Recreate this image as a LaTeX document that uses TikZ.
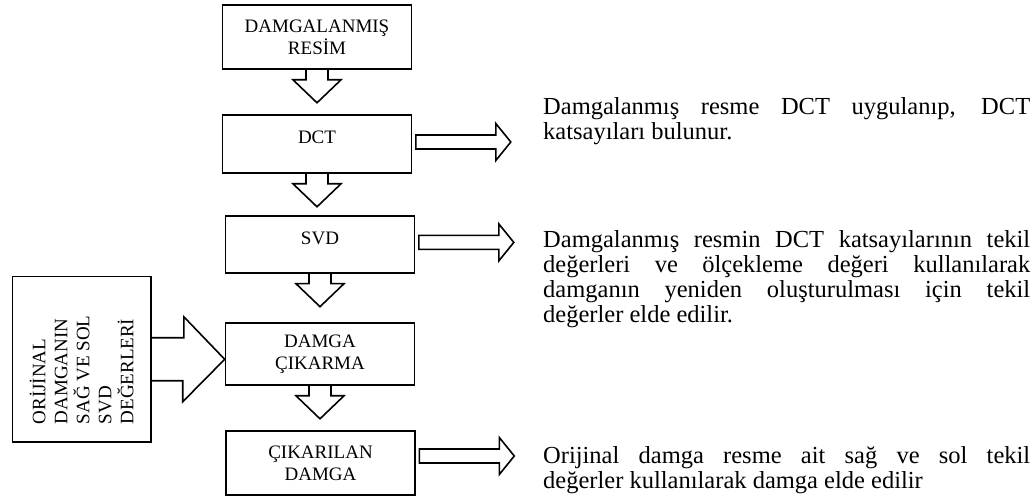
\documentclass[tikz,border=0pt]{standalone}
\usepackage{fontspec}
\setmainfont{Liberation Serif}
\usetikzlibrary{calc}

\begin{document}
\begin{tikzpicture}
[x=1pt, y=1pt,
 kutu/.style={draw, line width=1.6pt, minimum width=189pt, align=center, inner sep=0pt, font=\fontsize{19}{21.7}\selectfont},
 tekli/.style={text height=12pt, text depth=12pt},
 blok/.style={draw, line width=1.6pt, line join=miter},
 aciklama/.style={anchor=north west, inner sep=0pt, text width=487pt, align=justify, font=\fontsize{24.5}{25.2}\selectfont}]
\useasboundingbox (0,0) rectangle (1036,-502);
% akis kutulari
\node[kutu, minimum height=64pt] (resim) at (317,-37) {DAMGALANMIŞ\\RESİM};
\node[kutu, tekli, minimum height=58pt] (dct) at (317,-144) {DCT};
\node[kutu, tekli, minimum height=57pt] (svd) at (320,-244.4) {SVD};
\node[kutu, minimum height=62pt] (cikarma) at (320,-354) {DAMGA\\ÇIKARMA};
\node[kutu, minimum height=64pt] (damga) at (320.5,-463) {ÇIKARILAN\\DAMGA};
\node[kutu, minimum width=138.7pt, minimum height=165.3pt] (orijinal) at (81.7,-359.3) {};
\node[rotate=90, align=left, inner sep=0pt, font=\fontsize{19}{22}\selectfont] (orijinalyazi) at ([yshift=-10.6pt]orijinal.center) {ORİJİNAL\\DAMGANIN\\SAĞ VE SOL\\SVD\\DEĞERLERİ};
% blok oklar
\foreach \k in {resim,dct,svd,cikarma}
  \draw[blok] ([xshift=-11pt]\k.south) -- ++(0,-10) -- ++(-13,0) -- ++(24,-23) -- ++(24,23) -- ++(-13,0) -- ++(0,10);
\foreach \k/\dy in {dct/2,svd/2,damga/7}
  \draw[blok] ([shift={(3.5pt,\dy pt)}]\k.east) ++(0,7) -- ++(80,0) -- ++(0,11.5) -- ++(15,-18.5) -- ++(-15,-18.5) -- ++(0,11.5) -- ++(-80,0) -- cycle;
\draw[blok] ($(orijinal.east)+(0,21.5)$) -- ++(32,0) -- ++(0,21) -- (cikarma.west |- orijinal.east) -- ++(-42,-42.5) -- ++(0,21) -- ++(-32,0);
% aciklamalar
\node[aciklama] (dctyazi) at (543,-97) {Damgalanmış resme DCT uygulanıp, DCT\linebreak katsayıları bulunur.};
\node[aciklama] (svdyazi) at (543,-230) {Damgalanmış resmin DCT katsayılarının tekil\linebreak değerleri ve ölçekleme değeri kullanılarak\linebreak damganın yeniden oluşturulması için tekil\linebreak değerler elde edilir.};
\node[aciklama] (damgayazi) at (543,-446) {Orijinal damga resme ait sağ ve sol tekil\linebreak değerler kullanılarak damga elde edilir};
\end{tikzpicture}
\end{document}
